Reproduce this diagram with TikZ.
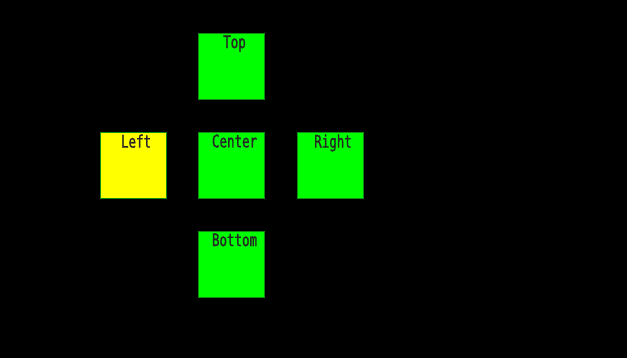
\documentclass[tikz,border=0pt]{standalone}
\usepackage{fontspec}
\newfontfamily\boxfont[FakeStretch=0.72,FakeBold=1.2]{DejaVu Sans Mono}
\usepackage{tikz}
\usetikzlibrary{positioning}
\definecolor{padgreen}{HTML}{00FF00}
\definecolor{padyellow}{HTML}{FFFF00}
\definecolor{padedge}{HTML}{108A10}
\tikzset{
  pad/.style={draw=padedge,line width=0.6pt,fill=padgreen,minimum size=1.98cm,inner sep=0pt},
  padsel/.style={pad,fill=padyellow},
  padtxt/.style={font=\boxfont\fontsize{14.8}{16}\selectfont,text=black!85,inner sep=0pt,anchor=north},
}

\begin{document}
\begin{tikzpicture}[x=0.03cm,y=-0.03cm]
  % background
  \fill[black] (0,0) rectangle (627,358);
  \foreach \n/\x/\y/\s in {Top/231.5/66/pad,Left/133/165/padsel,Center/231.5/165/pad,Right/330/165/pad,Bottom/231.5/264/pad}{
    \node[\s](\n) at (\x,\y){};
    \node[padtxt,below right=2.2pt and 2.6pt of \n.north,anchor=north](\n-t){\n};}
\end{tikzpicture}
\end{document}
